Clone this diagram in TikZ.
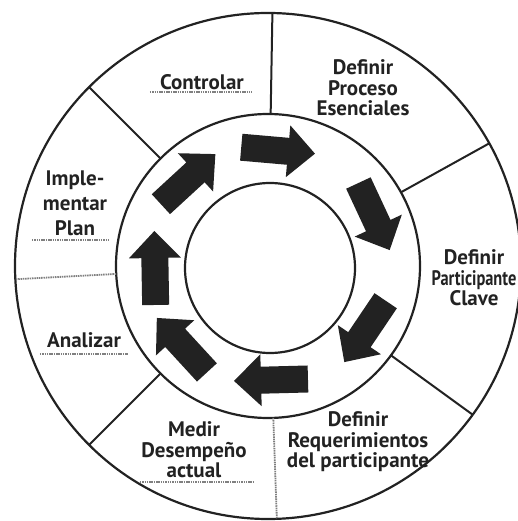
\documentclass[tikz,border=0pt]{standalone}
\usepackage{fontspec}
\setmainfont{PT Sans}
\usetikzlibrary{positioning}
\definecolor{ink}{RGB}{34,34,34}

\begin{document}
\begin{tikzpicture}[x=1pt, y=1pt,
    ring/.style={draw=ink, line width=2.2pt},
    divider/.style={draw=ink, line width=2pt},
    softline/.style={draw=gray, line width=1.8pt, dash pattern=on 1.5pt off 0.8pt},
    label/.style={text=ink, font=\fontsize{21}{20.5}\selectfont\bfseries, align=center, inner sep=0pt},
    blockarrow/.pic={\fill[ink] (-37,-13.5) -- (10,-13.5) -- (10,-26) -- (37,0) -- (10,26) -- (10,13.5) -- (-37,13.5) -- cycle;}]
    \useasboundingbox (-268,-255) rectangle (249,266);

    \draw[ring] (0,0) circle (253);
    \draw[ring] (0,0) circle (152);
    \draw[ring] (2,-2) circle (85);

    \draw[divider] (89:152) -- (89:253);
    \draw[divider] (29:152) -- (29:253);
    \draw[divider] (-36:152) -- (-36:253);
    \draw[divider] (-135:152) -- (-135:253);
    \draw[divider] (135:152) -- (135:253);
    \draw[softline] (-88:152) -- (-88:253);
    \draw[softline] (183:152) -- (183:253);

    \pic[rotate=-5] at (85:116) {blockarrow};
    \pic[rotate=-65] at (25:117) {blockarrow};
    \pic[rotate=-124] at (-34:117) {blockarrow};
    \pic[rotate=-178.5] at (-88.5:114) {blockarrow};
    \pic[rotate=-227.4] at (-137.4:117) {blockarrow};
    \pic[rotate=-269] at (-179:113) {blockarrow};
    \pic[rotate=42.6] at (132.6:118) {blockarrow};

    \node[label] (controlar) at (-66,184) {Controlar};
    \node[label] (procesos) at (95,178) {Definir\\Proceso\\Esenciales};
    \node[label] (participantes) at (206,-12) {Definir\\\scalebox{0.78}[1]{Participante}\\Clave};
    \node[label] (requerimientos) at (90,-176) {Definir\\Requerimientos\\del participante};
    \node[label] (medir) at (-74,-184) {Medir\\Desempeño\\actual};
    \node[label] (analizar) at (-184,-74) {Analizar};
    \node[label, font=\fontsize{21}{25}\selectfont\bfseries] (implementar) at (-193,63) {Imple-\\mentar\\Plan};

    \draw[softline] (-118,174) -- (-16,174);
    \draw[softline] (-236,26) -- (-158,26);
    \draw[softline] (-228,-88) -- (-140,-88);
    \draw[softline] (-128,-216) -- (-15,-216);
\end{tikzpicture}
\end{document}
